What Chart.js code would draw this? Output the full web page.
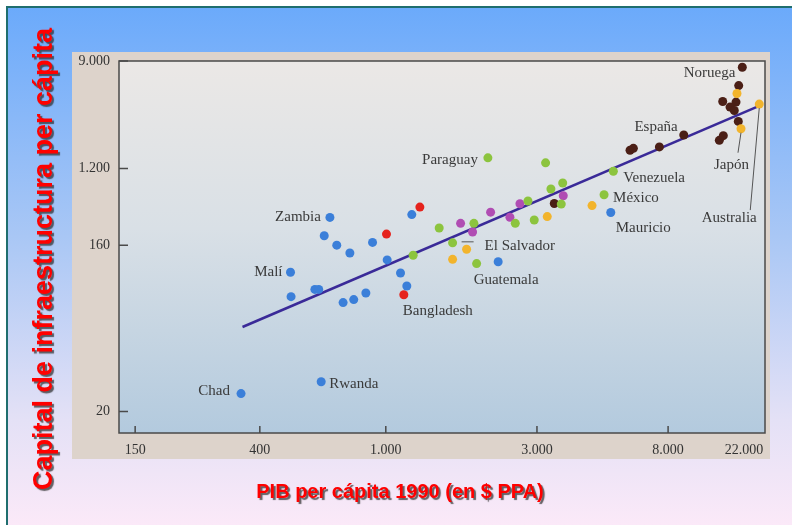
<!DOCTYPE html>
<html>
<head>
<meta charset="utf-8">
<title>Capital de infraestructura y PIB per cápita</title>
<script src="https://cdn.jsdelivr.net/npm/chart.js@4.4.1/dist/chart.umd.min.js"></script>
<style>
  html, body { margin: 0; padding: 0; background: #fff; }
  canvas { display: block; }
</style>
</head>
<body>
<canvas id="chart" width="792" height="525"></canvas>
<script>
// axis ticks (the printed axes are log-like but not evenly spaced)
const xTicks = [150, 400, 1000, 3000, 8000, 22000];
const xTickLabels = ["150", "400", "1.000", "3.000", "8.000", "22.000"];
const yTicks = [20, 160, 1200, 9000];
const yTickLabels = ["20", "160", "1.200", "9.000"];

// [PIB per cápita 1990, capital de infraestructura per cápita]
const blue = [
  [345, 25],    // Chad
  [625, 29],    // Rwanda
  [500, 114],   // Malí
  [502, 84], [597, 92], [614, 92], [733, 78], [792, 81], [865, 88],
  [1010, 133], [1113, 113], [1165, 96],
  [666, 332],   // Zambia
  [639, 205], [700, 160], [770, 145], [908, 172], [1208, 357], [2263, 130],
  [5210, 377]   // Mauricio
];
const red = [[1005, 214], [1281, 435], [1140, 86]];   // last: Bangladesh
const green = [
  [1220, 141], [1474, 251],
  [1625, 170],  // El Salvador
  [1897, 284],
  [1935, 127],  // Guatemala
  [2100, 1465], // Paraguay
  [2563, 284], [2810, 510], [2941, 310], [3200, 1335], [3330, 700], [3637, 821], [3598, 471],
  [4955, 602],  // México
  [5312, 1117]  // Venezuela
];
const purple = [[1722, 284], [1879, 226], [2142, 381], [2465, 333], [2651, 475], [3652, 586]];
const yellow = [
  [1625, 134], [1799, 152], [3240, 339], [4529, 453],
  [21135, 2530], // Japón
  [20040, 4890],
  [26960, 4013]  // Australia
];
const brown = [
  [3415, 478], [6018, 1689], [6170, 1752], [7496, 1799],
  [9858, 2250],  // España
  [15833, 2035], [16697, 2221], [16567, 4211], [19776, 4164], [18260, 3794],
  [19335, 3561], [20392, 2900], [20500, 5677],
  [21510, 8000]  // Noruega
];
const trend = [[349, 57.5], [26960, 3887]];

// where each tick sits along its axis (0..1), as printed in the figure
const tickValues = { x: xTicks, y: yTicks };
const tickPlaces = {
  x: [0.025, 0.218, 0.413, 0.647, 0.850, 0.9675],
  y: [0.058, 0.505, 0.711, 1]
};

const LogScale = Chart.LogarithmicScale || Chart.registry.getScale("logarithmic");

// log scale that is piecewise between the printed ticks
class BentLogScale extends LogScale {
  static id = "bentlog";
  getPixelForValue(value) {
    const vals = tickValues[this.id], places = tickPlaces[this.id];
    const lv = Math.log10(value);
    let i = 1;
    while (i < vals.length - 1 && lv > Math.log10(vals[i])) i++;
    const a = Math.log10(vals[i - 1]), b = Math.log10(vals[i]);
    const t = places[i - 1] + (lv - a) / (b - a) * (places[i] - places[i - 1]);
    return this.getPixelForDecimal(t);
  }
}
Chart.register(BentLogScale);

const callouts = [
  { text: "Chad", point: blue[0], dx: -11, dy: -3, align: "right" },
  { text: "Rwanda", point: blue[1], dx: 8, dy: 2, align: "left" },
  { text: "Malí", point: blue[2], dx: -8, dy: 0, align: "right" },
  { text: "Zambia", point: blue[12], dx: -9, dy: 0, align: "right" },
  { text: "Mauricio", point: blue[19], dx: 5, dy: 16, align: "left" },
  { text: "Bangladesh", point: red[2], dx: -1, dy: 16, align: "left" },
  { text: "El Salvador", point: green[2], dx: 32, dy: 3, align: "left" },
  { text: "Guatemala", point: green[4], dx: -3, dy: 16, align: "left" },
  { text: "Paraguay", point: green[5], dx: -10, dy: 2, align: "right" },
  { text: "México", point: green[13], dx: 9, dy: 3, align: "left" },
  { text: "Venezuela", point: green[14], dx: 10, dy: 7, align: "left" },
  { text: "Japón", point: yellow[4], dx: -9.5, dy: 36, align: "center" },
  { text: "Australia", point: yellow[6], dx: -30, dy: 114, align: "center" },
  { text: "España", point: brown[4], dx: -6, dy: -8, align: "right" },
  { text: "Noruega", point: brown[13], dx: -7, dy: 6, align: "right" }
];
// short pointer lines next to some labels: [point, from dx,dy, to dx,dy]
const leaders = [
  [green[2], 9, -1, 21, -1],
  [yellow[4], 0, 4, -3, 24],
  [yellow[6], 0, 4, -9, 106]
];

const backdrop = {
  id: "backdrop",
  beforeDraw(chart) {
    const { ctx, width, height, chartArea: a } = chart;
    ctx.save();
    ctx.fillStyle = "#fff";
    ctx.fillRect(0, 0, width, height);
    const page = ctx.createLinearGradient(0, 0, 0, height);
    page.addColorStop(0, "#69a9fb");
    page.addColorStop(0.45, "#a9c7f5");
    page.addColorStop(0.8, "#e4e1f6");
    page.addColorStop(1, "#fbe9f8");
    ctx.fillStyle = page;
    ctx.fillRect(8, 8, width - 8, height - 8);
    ctx.strokeStyle = "#1f6e6e";
    ctx.lineWidth = 2;
    ctx.beginPath();
    ctx.moveTo(7, height);
    ctx.lineTo(7, 7);
    ctx.lineTo(width, 7);
    ctx.stroke();
    // scanned figure paper
    ctx.fillStyle = "#ddd3cb";
    ctx.fillRect(72, 52, 698, 407);
    const plot = ctx.createLinearGradient(0, a.top, 0, a.bottom);
    plot.addColorStop(0, "#ebe8e6");
    plot.addColorStop(0.45, "#d9e0e6");
    plot.addColorStop(1, "#b3cade");
    ctx.fillStyle = plot;
    ctx.fillRect(a.left, a.top, a.width, a.height);
    ctx.restore();
  }
};

const overlay = {
  id: "overlay",
  afterDraw(chart) {
    const { ctx, chartArea: a, scales: { x, y } } = chart;
    ctx.save();
    // frame and inward ticks
    ctx.strokeStyle = "#4a4a4a";
    ctx.lineWidth = 1.5;
    ctx.strokeRect(a.left, a.top, a.width, a.height);
    ctx.beginPath();
    xTicks.slice(0, -1).forEach(v => {
      const px = x.getPixelForValue(v);
      ctx.moveTo(px, a.bottom);
      ctx.lineTo(px, a.bottom - 7);
    });
    yTicks.forEach(v => {
      const py = y.getPixelForValue(v);
      ctx.moveTo(a.left, py);
      ctx.lineTo(a.left + 9, py);
    });
    ctx.stroke();

    // leaders and country names
    ctx.strokeStyle = "#555";
    ctx.lineWidth = 1;
    ctx.beginPath();
    leaders.forEach(([p, x0, y0, x1, y1]) => {
      const px = x.getPixelForValue(p[0]), py = y.getPixelForValue(p[1]);
      ctx.moveTo(px + x0, py + y0);
      ctx.lineTo(px + x1, py + y1);
    });
    ctx.stroke();
    ctx.fillStyle = "#3a3a3a";
    ctx.font = '15px "Liberation Serif"';
    ctx.textBaseline = "middle";
    callouts.forEach(c => {
      ctx.textAlign = c.align;
      ctx.fillText(c.text, x.getPixelForValue(c.point[0]) + c.dx, y.getPixelForValue(c.point[1]) + c.dy);
    });

    // axis titles, red with a grey shadow
    ctx.fillStyle = "#ff0000";
    ctx.shadowColor = "rgba(50,50,50,0.75)";
    ctx.shadowOffsetX = 2;
    ctx.shadowOffsetY = 2;
    ctx.shadowBlur = 1;
    ctx.textBaseline = "alphabetic";
    ctx.textAlign = "center";
    ctx.font = 'bold 20px "Liberation Sans"';
    ctx.fillText("PIB per cápita 1990 (en $ PPA)", 400, 498);
    ctx.translate(52, 259);
    ctx.rotate(-Math.PI / 2);
    ctx.font = 'bold 27px "Liberation Sans"';
    ctx.fillText("Capital de infraestructura per cápita", 0, 0);
    ctx.restore();
  }
};

const dots = (color, rows) => ({
  data: rows.map(([px, v]) => ({ x: px, y: v })),
  backgroundColor: color,
  borderWidth: 0,
  pointRadius: 4.5,
  order: 1
});

const tickFont = { family: "Liberation Serif", size: 14 };

new Chart(document.getElementById("chart"), {
  type: "scatter",
  data: {
    datasets: [
      dots("#3b7fd9", blue),
      dots("#e5231d", red),
      dots("#8cc43e", green),
      dots("#b04db3", purple),
      dots("#f2b42c", yellow),
      dots("#4b1f16", brown),
      {
        data: trend.map(([px, v]) => ({ x: px, y: v })),
        showLine: true,
        borderColor: "#3a2a98",
        borderWidth: 2.5,
        pointRadius: 0,
        order: 2
      }
    ]
  },
  options: {
    responsive: false,
    animation: false,
    layout: { padding: { left: 79, top: 61, right: 27, bottom: 62 } },
    plugins: { legend: { display: false }, tooltip: { enabled: false } },
    scales: {
      x: {
        type: "bentlog",
        position: "bottom",
        min: 133,
        max: 29000,
        grid: { display: false, drawTicks: false },
        border: { display: false },
        afterBuildTicks: s => { s.ticks = xTicks.map(v => ({ value: v })); },
        afterFit: s => { s.height = 30; },
        ticks: {
          autoSkip: false,
          maxRotation: 0,
          padding: 9,
          color: "#333",
          font: tickFont,
          callback: (v, i) => xTickLabels[i]
        }
      },
      y: {
        type: "bentlog",
        position: "left",
        min: 15,
        max: 9000,
        grid: { display: false, drawTicks: false },
        border: { display: false },
        afterBuildTicks: s => { s.ticks = yTicks.map(v => ({ value: v })); },
        afterFit: s => { s.width = 40; },
        ticks: {
          autoSkip: false,
          padding: 9,
          color: "#333",
          font: tickFont,
          callback: (v, i) => yTickLabels[i]
        }
      }
    }
  },
  plugins: [backdrop, overlay]
});
</script>
</body>
</html>
